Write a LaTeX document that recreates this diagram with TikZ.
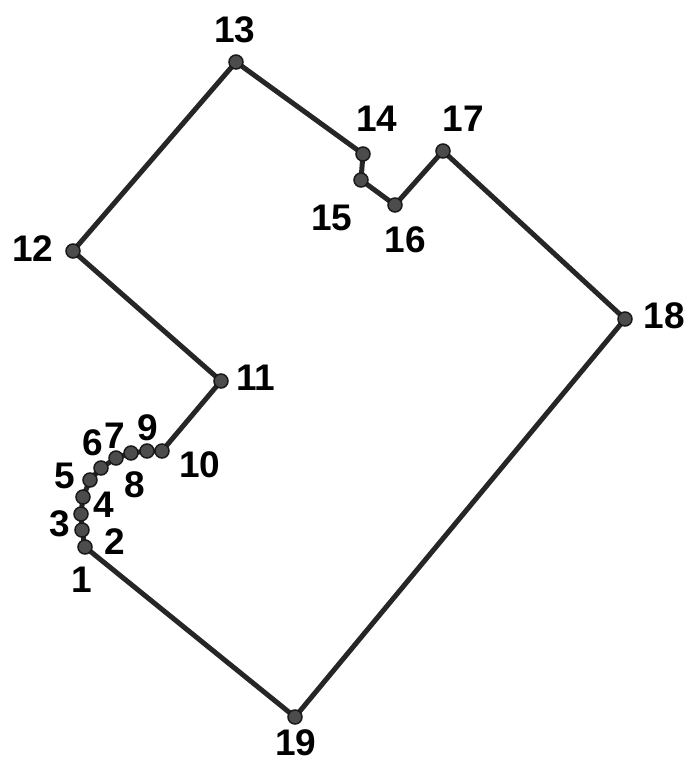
\documentclass[tikz,border=0pt]{standalone}
\usepackage{fontspec}
\setmainfont{Liberation Sans}
\begin{document}
\begin{tikzpicture}[x=1pt,y=-1pt,
  edge/.style={draw=black!85, line width=5pt, line join=round},
  dot/.style={circle, fill=black!70, draw=black!90, line width=1.5pt, minimum size=14pt, inner sep=0pt},
  lab/.style={font=\fontsize{37}{42}\selectfont\bfseries, inner sep=0pt, text=black}]
\useasboundingbox (0,0) rectangle (690,765);
\coordinate (c1) at (85,547);
\coordinate (c2) at (82,530);
\coordinate (c3) at (81,514);
\coordinate (c4) at (83,497);
\coordinate (c5) at (90,480);
\coordinate (c6) at (101,468);
\coordinate (c7) at (116,458);
\coordinate (c8) at (131,453);
\coordinate (c9) at (147,451);
\coordinate (c10) at (162,451);
\coordinate (c11) at (221,381);
\coordinate (c12) at (73,251);
\coordinate (c13) at (236,62);
\coordinate (c14) at (363,154);
\coordinate (c15) at (361,180);
\coordinate (c16) at (395,205);
\coordinate (c17) at (443,151);
\coordinate (c18) at (625,319);
\coordinate (c19) at (295,717);
\draw[edge] (c1) -- (c2) -- (c3) -- (c4) -- (c5) -- (c6) -- (c7) -- (c8) -- (c9) -- (c10) -- (c11) -- (c12) -- (c13) -- (c14) -- (c15) -- (c16) -- (c17) -- (c18) -- (c19) -- cycle;
\foreach \i in {1,...,19} {\node[dot] (p\i) at (c\i) {};}
\node[lab] (l1) at (82,580) {1};
\node[lab] (l2) at (115,542) {2};
\node[lab] (l3) at (60,524) {3};
\node[lab] (l4) at (104,505) {4};
\node[lab] (l5) at (65,476) {5};
\node[lab] (l6) at (93,443) {6};
\node[lab] (l7) at (115,436) {7};
\node[lab] (l8) at (135,485) {8};
\node[lab] (l9) at (148,428) {9};
\node[lab] (l10) at (200,465) {10};
\node[lab] (l11) at (256,378) {11};
\node[lab] (l12) at (33,249) {12};
\node[lab] (l13) at (235,30) {13};
\node[lab] (l14) at (377,119) {14};
\node[lab] (l15) at (332,218) {15};
\node[lab] (l16) at (405,240) {16};
\node[lab] (l17) at (463,119) {17};
\node[lab] (l18) at (664,316) {18};
\node[lab] (l19) at (296,743) {19};
\end{tikzpicture}
\end{document}
